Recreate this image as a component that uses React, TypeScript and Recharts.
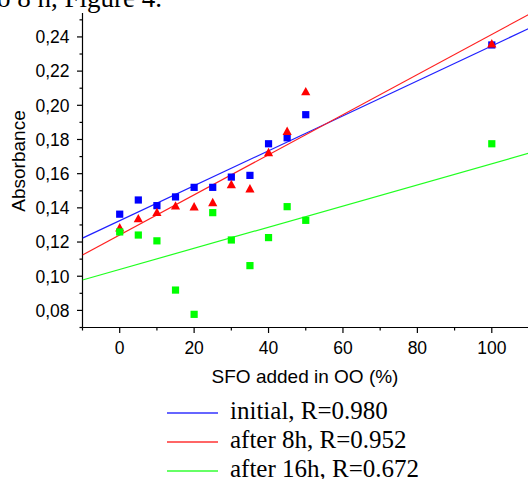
import React from 'react';
import { ScatterChart, Scatter, XAxis, YAxis } from 'recharts';

// SFO content (%) in OO
const sfoAdded = [0, 5, 10, 15, 20, 25, 30, 35, 40, 45, 50, 100];
const initial = [0.1363, 0.1446, 0.1413, 0.1464, 0.152, 0.152, 0.158, 0.159, 0.1775, 0.181, 0.1945, 0.2353];
const after8h = [0.1282, 0.1335, 0.1372, 0.141, 0.1405, 0.143, 0.1535, 0.151, 0.1722, 0.1846, 0.2078, 0.2358];
const after16h = [0.1259, 0.1241, 0.1207, 0.0919, 0.0777, 0.1372, 0.1212, 0.1062, 0.1226, 0.1407, 0.1327, 0.1775];

// linear fits, read at the two ends of the x axis
const fitX = [-10, 110];
const initialFit = [0.1223, 0.245];
const after8hFit = [0.1124, 0.2532];
const after16hFit = [0.0978, 0.172];

const xTicks = [-10, 0, 10, 20, 30, 40, 50, 60, 70, 80, 90, 100, 110];
const yTicks = [0.07, 0.08, 0.09, 0.1, 0.11, 0.12, 0.13, 0.14, 0.15, 0.16, 0.17, 0.18, 0.19, 0.2, 0.21, 0.22, 0.23, 0.24, 0.25];
const yMajor = [0.08, 0.1, 0.12, 0.14, 0.16, 0.18, 0.2, 0.22, 0.24];

const legendItems = [
  { label: 'initial, R=0.980', color: '#3333ff' },
  { label: 'after 8h, R=0.952', color: '#ff3333' },
  { label: 'after 16h, R=0.672', color: '#33ff33' },
];

const toPoints = (xs: number[], ys: number[]) => xs.map((x, i) => ({ x, y: ys[i] }));

const PLOT_LEFT = 82.5;
const PLOT_TOP = 13;
const PLOT_BOTTOM = 327.5;
const PLOT_RIGHT = 529;
const CHART_W = 545;
const CHART_H = 360;
const SANS = '"Liberation Sans", Arial, sans-serif';
const SERIF = '"Liberation Serif", "Times New Roman", serif';

const Square = (color: string) => (props: any) => {
  const { cx, cy } = props;
  if (cx == null || cy == null) return <g />;
  return <rect x={cx - 3.6} y={cy - 3.6} width={7.2} height={7.2} fill={color} />;
};

const Triangle = (props: any) => {
  const { cx, cy } = props;
  if (cx == null || cy == null) return <g />;
  return <polygon points={`${cx},${cy - 5} ${cx + 4.6},${cy + 3.4} ${cx - 4.6},${cy + 3.4}`} fill="#ff0000" />;
};

const NoDot = () => <g />;

const YTick = (props: any) => {
  const { y, payload } = props;
  const v = payload.value;
  const major = yMajor.some((m) => Math.abs(m - v) < 1e-6);
  return (
    <g>
      <line x1={PLOT_LEFT} x2={PLOT_LEFT - (major ? 5.5 : 3)} y1={y} y2={y} stroke="#000" strokeWidth={1.2} />
      {major && (
        <text x={PLOT_LEFT - 13} y={y} dy="0.36em" textAnchor="end" fontFamily={SANS} fontSize={17.5} fill="#000">
          {v.toFixed(2).replace('.', ',')}
        </text>
      )}
    </g>
  );
};

const XTick = (props: any) => {
  const { x, payload } = props;
  const v = payload.value;
  const major = v % 20 === 0;
  return (
    <g>
      <line x1={x} x2={x} y1={PLOT_BOTTOM} y2={PLOT_BOTTOM + (major ? 5.5 : 3)} stroke="#000" strokeWidth={1.2} />
      {major && (
        <text x={x} y={PLOT_BOTTOM + 26} textAnchor="middle" fontFamily={SANS} fontSize={17.5} fill="#000">
          {v}
        </text>
      )}
    </g>
  );
};

export default function App() {
  return (
    <div style={{ position: 'absolute', left: 0, top: 0, width: 528, height: 479, overflow: 'hidden', background: '#fff' }}>
      <ScatterChart
        width={CHART_W}
        height={CHART_H}
        margin={{ top: PLOT_TOP, right: CHART_W - PLOT_RIGHT, left: PLOT_LEFT - 60, bottom: CHART_H - PLOT_BOTTOM - 30 }}
      >
        <XAxis
          type="number"
          dataKey="x"
          domain={[-10, 110]}
          ticks={xTicks}
          interval={0}
          height={30}
          tickLine={false}
          tick={<XTick />}
          axisLine={{ stroke: '#000', strokeWidth: 1.2 }}
          allowDataOverflow
        />
        <YAxis
          type="number"
          dataKey="y"
          domain={[0.07, 0.254]}
          ticks={yTicks}
          interval={0}
          width={60}
          tickLine={false}
          tick={<YTick />}
          axisLine={{ stroke: '#000', strokeWidth: 1.2 }}
          allowDataOverflow
        />
        <Scatter data={toPoints(fitX, initialFit)} line={{ stroke: '#2020ff', strokeWidth: 1.2 }} shape={NoDot} isAnimationActive={false} />
        <Scatter data={toPoints(fitX, after8hFit)} line={{ stroke: '#ff2020', strokeWidth: 1.2 }} shape={NoDot} isAnimationActive={false} />
        <Scatter data={toPoints(fitX, after16hFit)} line={{ stroke: '#20ff20', strokeWidth: 1.2 }} shape={NoDot} isAnimationActive={false} />
        <Scatter data={toPoints(sfoAdded, initial)} shape={Square('#0000ff')} isAnimationActive={false} />
        <Scatter data={toPoints(sfoAdded, after8h)} shape={Triangle} isAnimationActive={false} />
        <Scatter data={toPoints(sfoAdded, after16h)} shape={Square('#00ff00')} isAnimationActive={false} />
      </ScatterChart>
      <svg width={528} height={479} style={{ position: 'absolute', left: 0, top: 0, pointerEvents: 'none' }}>
        <text x={162} y={7} textAnchor="end" fontFamily={SERIF} fontSize={27} fill="#000">
          to 8 h, Figure 4.
        </text>
        <text transform="translate(25,161) rotate(-90)" textAnchor="middle" fontFamily={SANS} fontSize={19} fill="#000">
          Absorbance
        </text>
        <text x={305} y={383} textAnchor="middle" fontFamily={SANS} fontSize={19} fill="#000">
          SFO added in OO (%)
        </text>
        {legendItems.map((item, i) => (
          <g key={item.label}>
            <line x1={167} x2={218} y1={413 + i * 29} y2={413 + i * 29} stroke={item.color} strokeWidth={1.3} />
            <text x={230} y={419 + i * 29} fontFamily={SERIF} fontSize={25} fill="#000">
              {item.label}
            </text>
          </g>
        ))}
      </svg>
    </div>
  );
}
